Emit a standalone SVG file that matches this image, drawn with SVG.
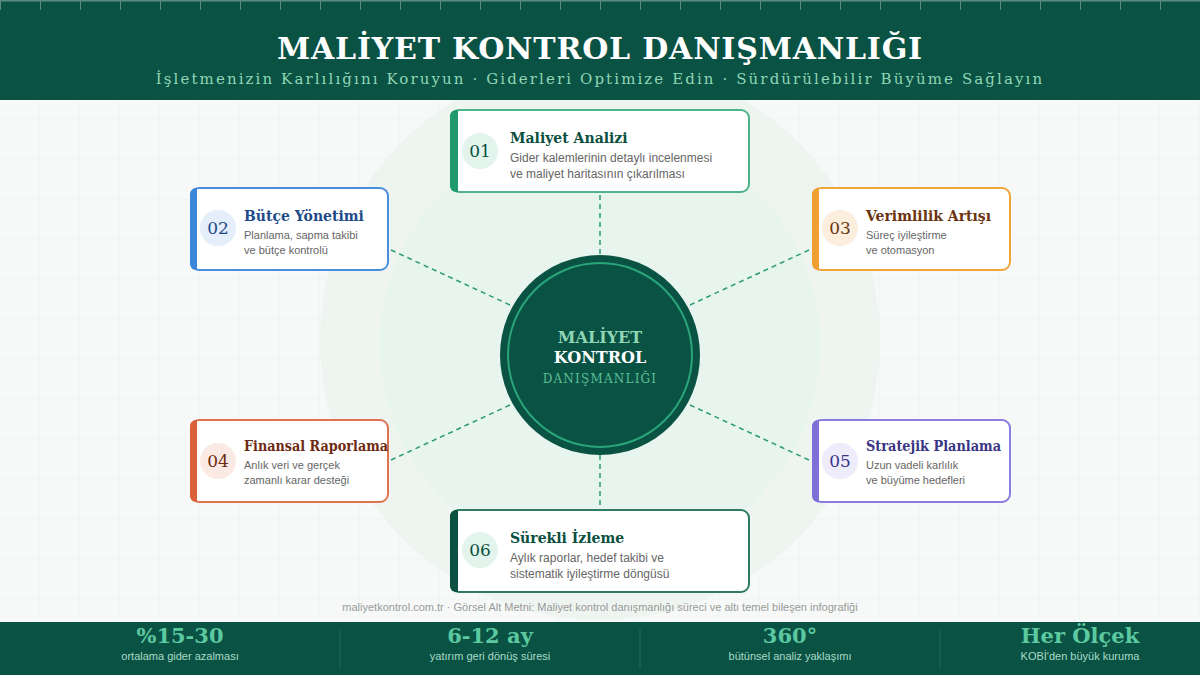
<svg xmlns="http://www.w3.org/2000/svg" width="1200" height="675" viewBox="0 0 1200 675">
<defs>
<pattern id="grid" width="40" height="40" patternUnits="userSpaceOnUse">
<path d="M40 0V40M0 40H40" fill="none" stroke="#ebf2ee" stroke-width="1"/>
</pattern>
<pattern id="ticks" width="40" height="12" patternUnits="userSpaceOnUse">
<line x1="0.5" y1="0" x2="0.5" y2="10" stroke="#5b8b7e" stroke-width="1"/>
</pattern>
</defs>
<style>
.ser{font-family:"DejaVu Serif","Liberation Serif",serif}
.sans{font-family:"Liberation Sans",Arial,sans-serif}
.card{fill:#ffffff;stroke-width:2}
.conn{stroke:#2a9a70;stroke-width:1.5;stroke-dasharray:5 4;fill:none}
.ttl{font-family:"DejaVu Serif","Liberation Serif",serif;font-weight:bold;font-size:14px}
.desc{font-family:"Liberation Sans",Arial,sans-serif;fill:#666}
.num{font-family:"DejaVu Serif","Liberation Serif",serif;font-size:17px;text-anchor:middle}
.sv{font-family:"DejaVu Serif","Liberation Serif",serif;font-weight:bold;font-size:21px;fill:#5cc9a0;text-anchor:middle}
.sl{font-family:"Liberation Sans",Arial,sans-serif;font-size:11px;fill:#a9dcc6;text-anchor:middle}
</style>
<rect width="1200" height="675" fill="#f6f9f7"/>
<rect width="1200" height="675" fill="url(#grid)"/>
<circle cx="600" cy="340" r="280" fill="#eef5f1"/>
<circle cx="600" cy="345" r="220" fill="#e8f5ee"/>

<g id="header">
<rect width="1200" height="100" fill="#0a5244"/>
<rect width="1200" height="12" fill="url(#ticks)"/>
<rect width="1200" height="1.5" fill="#5b8b7e"/>
<text x="600" y="59" text-anchor="middle" class="ser" font-weight="bold" font-size="30" fill="#ffffff" letter-spacing="0.8">MALİYET KONTROL DANIŞMANLIĞI</text>
<text x="600" y="84" text-anchor="middle" class="ser" font-size="15" fill="#8fd6b5" letter-spacing="2.1">İşletmenizin Karlılığını Koruyun · Giderleri Optimize Edin · Sürdürülebilir Büyüme Sağlayın</text>
</g>

<g id="connectors">
<line class="conn" x1="600" y1="195" x2="600" y2="255"/>
<line class="conn" x1="600" y1="455" x2="600" y2="508"/>
<line class="conn" x1="391" y1="250" x2="510" y2="305"/>
<line class="conn" x1="690" y1="305" x2="809" y2="250"/>
<line class="conn" x1="391" y1="460" x2="510" y2="405"/>
<line class="conn" x1="690" y1="405" x2="809" y2="460"/>
</g>

<g id="center">
<circle cx="600" cy="355" r="100" fill="#0a5244"/>
<circle cx="600" cy="355" r="92" fill="none" stroke="#2aa57a" stroke-width="2"/>
<text x="600" y="343" text-anchor="middle" class="ser" font-weight="bold" font-size="16" fill="#8fd6b5">MALİYET</text>
<text x="600" y="363" text-anchor="middle" class="ser" font-weight="bold" font-size="16" fill="#ffffff">KONTROL</text>
<text x="600" y="383" text-anchor="middle" class="ser" font-size="12" fill="#5cbf95" letter-spacing="1.2">DANIŞMANLIĞI</text>
</g>

<g id="node01">
<rect class="card" x="451" y="110" width="298" height="82" rx="8" stroke="#4db38a"/>
<path d="M458 110h-2a6 6 0 0 0-6 6v70a6 6 0 0 0 6 6h2z" fill="#1f9a6e"/>
<circle cx="480" cy="151" r="18" fill="#e2f4ec"/>
<text class="num" x="480" y="157" fill="#0b4f3f">01</text>
<text class="ttl" x="510" y="143" fill="#0b4f3f" font-size="16">Maliyet Analizi</text>
<text class="desc" x="510" y="162" font-size="12">Gider kalemlerinin detaylı incelenmesi</text>
<text class="desc" x="510" y="178" font-size="12">ve maliyet haritasının çıkarılması</text>
</g>

<g id="node02">
<rect class="card" x="191" y="188" width="197" height="82" rx="8" stroke="#4a8ee0"/>
<path d="M197 188h-1a6 6 0 0 0-6 6v70a6 6 0 0 0 6 6h1z" fill="#3b87d9"/>
<circle cx="218" cy="228" r="18" fill="#e5eefb"/>
<text class="num" x="218" y="234" fill="#1e4a8a">02</text>
<text class="ttl" x="244" y="221" fill="#1e4a8a">Bütçe Yönetimi</text>
<text class="desc" x="244" y="239" font-size="11">Planlama, sapma takibi</text>
<text class="desc" x="244" y="254" font-size="11">ve bütçe kontrolü</text>
</g>

<g id="node03">
<rect class="card" x="813" y="188" width="197" height="82" rx="8" stroke="#f0a63a"/>
<path d="M819 188h-1a6 6 0 0 0-6 6v70a6 6 0 0 0 6 6h1z" fill="#f0a030"/>
<circle cx="840" cy="228" r="18" fill="#fbeedd"/>
<text class="num" x="840" y="234" fill="#6b3410">03</text>
<text class="ttl" x="866" y="221" fill="#6b3410">Verimlilik Artışı</text>
<text class="desc" x="866" y="239" font-size="11">Süreç iyileştirme</text>
<text class="desc" x="866" y="254" font-size="11">ve otomasyon</text>
</g>

<g id="node04">
<rect class="card" x="191" y="420" width="197" height="82" rx="8" stroke="#e0734f"/>
<path d="M197 420h-1a6 6 0 0 0-6 6v70a6 6 0 0 0 6 6h1z" fill="#d9603a"/>
<circle cx="218" cy="461" r="18" fill="#fbeae4"/>
<text class="num" x="218" y="467" fill="#6e2a12">04</text>
<text class="ttl" x="244" y="451" fill="#6e2a12" textLength="144" lengthAdjust="spacingAndGlyphs">Finansal Raporlama</text>
<text class="desc" x="244" y="469" font-size="11">Anlık veri ve gerçek</text>
<text class="desc" x="244" y="484" font-size="11">zamanlı karar desteği</text>
</g>

<g id="node05">
<rect class="card" x="813" y="420" width="197" height="82" rx="8" stroke="#8a7ce0"/>
<path d="M819 420h-1a6 6 0 0 0-6 6v70a6 6 0 0 0 6 6h1z" fill="#7f6fd8"/>
<circle cx="840" cy="461" r="18" fill="#eeebfb"/>
<text class="num" x="840" y="467" fill="#3a3585">05</text>
<text class="ttl" x="866" y="451" fill="#3a3585" textLength="135" lengthAdjust="spacingAndGlyphs">Stratejik Planlama</text>
<text class="desc" x="866" y="469" font-size="11">Uzun vadeli karlılık</text>
<text class="desc" x="866" y="484" font-size="11">ve büyüme hedefleri</text>
</g>

<g id="node06">
<rect class="card" x="451" y="510" width="298" height="82" rx="8" stroke="#2e7a62"/>
<path d="M458 510h-2a6 6 0 0 0-6 6v70a6 6 0 0 0 6 6h2z" fill="#0b5040"/>
<circle cx="480" cy="550" r="18" fill="#e2f4ec"/>
<text class="num" x="480" y="556" fill="#0b4f3f">06</text>
<text class="ttl" x="510" y="543" fill="#0b4f3f" font-size="16">Sürekli İzleme</text>
<text class="desc" x="510" y="562" font-size="12">Aylık raporlar, hedef takibi ve</text>
<text class="desc" x="510" y="578" font-size="12">sistematik iyileştirme döngüsü</text>
</g>

<text x="600" y="611" text-anchor="middle" class="sans" font-size="11" fill="#999999">maliyetkontrol.com.tr · Görsel Alt Metni: Maliyet kontrol danışmanlığı süreci ve altı temel bileşen infografiği</text>

<g id="footer">
<rect x="0" y="622" width="1200" height="53" fill="#0a5244"/>
<line x1="340" y1="629" x2="340" y2="668" stroke="#1d6a58" stroke-width="1"/>
<line x1="640" y1="629" x2="640" y2="668" stroke="#1d6a58" stroke-width="1"/>
<line x1="940" y1="629" x2="940" y2="668" stroke="#1d6a58" stroke-width="1"/>
<text class="sv" x="180" y="643">%15-30</text>
<text class="sl" x="180" y="660">ortalama gider azalması</text>
<text class="sv" x="490" y="643">6-12 ay</text>
<text class="sl" x="490" y="660">yatırım geri dönüş süresi</text>
<text class="sv" x="790" y="643">360°</text>
<text class="sl" x="790" y="660">bütünsel analiz yaklaşımı</text>
<text class="sv" x="1080" y="643">Her Ölçek</text>
<text class="sl" x="1080" y="660">KOBİ'den büyük kuruma</text>
</g>
</svg>
